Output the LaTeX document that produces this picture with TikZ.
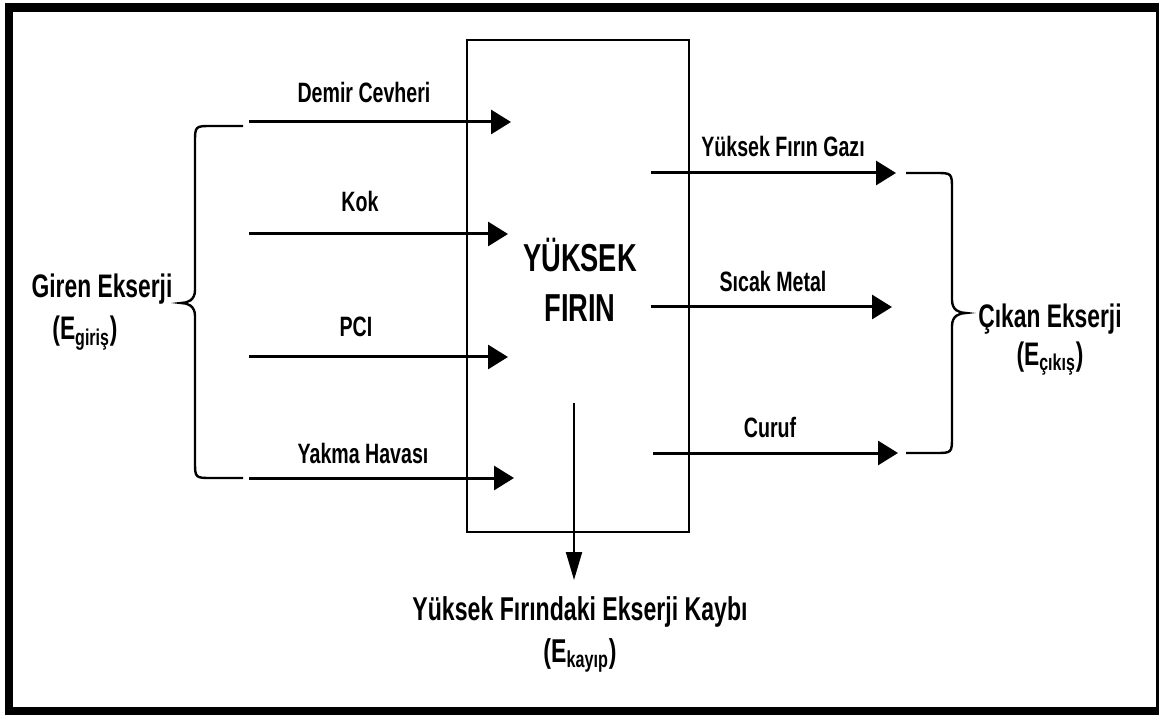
\documentclass[tikz,border=0pt]{standalone}
\usepackage{fontspec}
\setmainfont{Liberation Sans}[FakeStretch=0.7]
\usetikzlibrary{arrows.meta}

\begin{document}
\begin{tikzpicture}[x=0.5pt,y=-0.5pt,
  akis/.style={line width=1.5pt,-{Triangle[length=10pt,width=12pt]}},
  kayip/.style={line width=1pt,-{Triangle[length=14pt,width=8pt]}},
  parantez/.style={line width=1.2pt},
  etiket/.style={inner sep=0pt,anchor=base,font=\bfseries\fontsize{14}{17}\selectfont},
  baslik/.style={inner sep=0pt,anchor=base,align=center,font=\bfseries\fontsize{16.3}{19}\selectfont}]
\useasboundingbox (0,0) rectangle (1159,715);
% cerceve
\fill[black] (5,3) rectangle (1159,715);
\fill[white] (13,12) rectangle (1156,707);

% firin
\node[draw,line width=1.1pt,minimum width=111pt,minimum height=246pt,inner sep=0pt] (bf) at (578,286) {};
\node[inner sep=0pt,anchor=base,align=center,font=\bfseries\fontsize{19.5}{25}\selectfont] (yf) at (580,322) {YÜKSEK\\FIRIN};

% girisler
\coordinate (g1) at (249,122); \coordinate (h1) at (511,122);
\coordinate (g2) at (249,234); \coordinate (h2) at (508,234);
\coordinate (g3) at (249,357); \coordinate (h3) at (508,357);
\coordinate (g4) at (249,478); \coordinate (h4) at (514,478);
\draw[akis] (g1)--(h1);
\draw[akis] (g2)--(h2);
\draw[akis] (g3)--(h3);
\draw[akis] (g4)--(h4);
\node[etiket] (demir) at (364,103) {Demir Cevheri};
\node[etiket] (kok) at (360,212) {Kok};
\node[etiket] (pci) at (356,337) {PCI};
\node[etiket] (yakma) at (363,463) {Yakma Havası};

% cikislar
\coordinate (c1) at (651,173); \coordinate (d1) at (896,173);
\coordinate (c2) at (651,307); \coordinate (d2) at (892,307);
\coordinate (c3) at (653,453); \coordinate (d3) at (898,453);
\draw[akis] (c1)--(d1);
\draw[akis] (c2)--(d2);
\draw[akis] (c3)--(d3);
\node[etiket] (gaz) at (783,157) {Yüksek Fırın Gazı};
\node[etiket] (metal) at (773,292) {Sıcak Metal};
\node[etiket] (curuf) at (770,437) {Curuf};

% kayip
\coordinate (k1) at (574,403); \coordinate (k2) at (574,580);
\draw[kayip] (k1)--(k2);
\node[inner sep=0pt,anchor=base,align=center,font=\bfseries\fontsize{16.5}{21}\selectfont] (kaybi) at (580,662) {Yüksek Fırındaki Ekserji Kaybı\\(E\textsubscript{kayıp})};

% parantezler
\draw[parantez] (243,126) -- (212,126) .. controls (195,126) .. (195,143) -- (195,290)
  .. controls (195,300) and (188,303) .. (181,303) .. controls (188,303) and (195,306) .. (195,316)
  -- (195,461) .. controls (195,478) .. (212,478) -- (243,478);
\draw[parantez] (906,173) -- (935,173) .. controls (952,173) .. (952,190) -- (952,300)
  .. controls (952,310) and (959,313) .. (966,313) .. controls (959,313) and (952,316) .. (952,326)
  -- (952,436) .. controls (952,453) .. (935,453) -- (906,453);
\node[baslik] (giren) at (102,298) {Giren Ekserji};
\node[baslik] (girenalt) at (85,340) {(E\textsubscript{giriş})};
\node[baslik] (cikan) at (1050,365) {Çıkan Ekserji\\(E\textsubscript{çıkış})};
\end{tikzpicture}
\end{document}
